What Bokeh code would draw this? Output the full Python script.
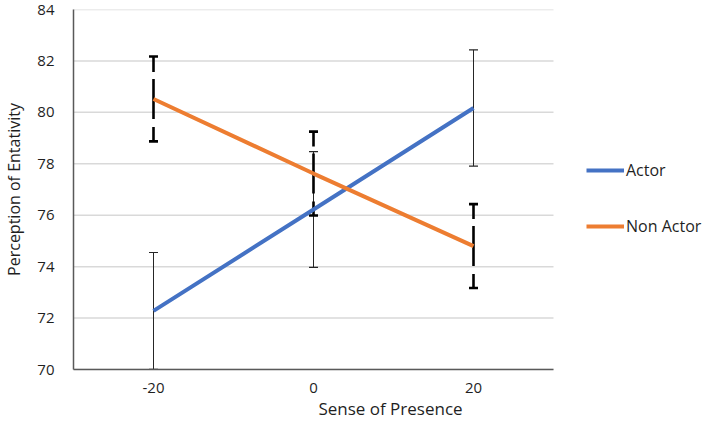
from bokeh.plotting import figure
from bokeh.models import ColumnDataSource, FixedTicker, Legend, LegendItem, Range1d
from bokeh.embed import file_html
from bokeh.resources import INLINE

# Sense of presence conditions and mean entativity ratings per group
presence = [-20, 0, 20]
presence_labels = ["-20", "0", "20"]
actor = [72.28, 76.22, 80.17]
actor_err = [2.27, 2.25, 2.26]
non_actor = [80.52, 77.62, 74.80]
non_actor_err = [1.65, 1.63, 1.63]
y_ticks = [70, 72, 74, 76, 78, 80, 82, 84]

X_LO, X_HI = -30, 30          # extent of the plotted axis
FONT = "Open Sans"
TEXT = "#1f1f1f"

def bars(values, errs):
    return ColumnDataSource(dict(
        x=presence,
        y=values,
        upper=[v + e for v, e in zip(values, errs)],
        lower=[v - e for v, e in zip(values, errs)],
    ))

src_actor = bars(actor, actor_err)
src_non = bars(non_actor, non_actor_err)

# the frame runs to the right edge so the legend can sit beside the axis
p = figure(
    width=707, height=422,
    x_range=Range1d(X_LO, 49.25), y_range=Range1d(70, 84),
    output_backend="svg", toolbar_location=None,
    min_border_left=73, min_border_right=0,
    min_border_top=9, min_border_bottom=53,
    background_fill_color="white", border_fill_color="white",
)
p.outline_line_color = None

# horizontal gridlines limited to the axis extent
p.xgrid.grid_line_color = None
p.ygrid.grid_line_color = None
grid_src = ColumnDataSource(dict(y=y_ticks, x0=[X_LO] * len(y_ticks),
                                 x1=[X_HI] * len(y_ticks)))
p.segment(x0="x0", y0="y", x1="x1", y1="y", source=grid_src,
          line_color="#d9d9d9", line_width=1.5)

p.yaxis.ticker = FixedTicker(ticks=y_ticks)
p.xaxis.ticker = FixedTicker(ticks=presence)
p.xaxis.major_label_overrides = dict(zip(presence, presence_labels))
p.xaxis.bounds = (X_LO, X_HI)
for ax in (p.xaxis, p.yaxis):
    ax.major_tick_line_color = None
    ax.minor_tick_line_color = None
    ax.axis_line_color = "#595959"
    ax.axis_line_width = 1.5
    ax.major_label_text_font = FONT
    ax.major_label_text_font_size = "15px"
    ax.major_label_text_color = TEXT
    ax.axis_label_text_font = FONT
    ax.axis_label_text_font_size = "17px"
    ax.axis_label_text_font_style = "normal"
    ax.axis_label_text_color = TEXT
p.yaxis.axis_label_text_font_size = "16px"
p.yaxis.major_label_standoff = 13
p.xaxis.major_label_standoff = 7
p.yaxis.axis_label_standoff = 9
p.xaxis.axis_label_standoff = 1
p.xaxis.axis_label = "Sense of Presence"
p.yaxis.axis_label = "Perception of Entativity"

# Actor error bars: thin solid with caps
p.segment(x0="x", y0="lower", x1="x", y1="upper", source=src_actor,
          line_color="#262626", line_width=1)
p.scatter(x="x", y="upper", source=src_actor, marker="dash", size=9,
          line_color="#262626", line_width=1.2)
p.scatter(x="x", y="lower", source=src_actor, marker="dash", size=9,
          line_color="#262626", line_width=1.2)

# Non Actor error bars: heavy dashed, drawn outward from the mean
p.segment(x0="x", y0="y", x1="x", y1="upper", source=src_non,
          line_color="black", line_width=2.6, line_dash="20 7")
p.segment(x0="x", y0="y", x1="x", y1="lower", source=src_non,
          line_color="black", line_width=2.6, line_dash="20 8")
p.scatter(x="x", y="upper", source=src_non, marker="dash", size=9,
          line_color="black", line_width=2.6)
p.scatter(x="x", y="lower", source=src_non, marker="dash", size=9,
          line_color="black", line_width=2.6)

# series lines
r_actor = p.line(x="x", y="y", source=src_actor, line_color="#4472C4",
                 line_width=4)
r_non = p.line(x="x", y="y", source=src_non, line_color="#ED7D31",
               line_width=4)

legend = Legend(
    items=[LegendItem(label="Actor", renderers=[r_actor]),
           LegendItem(label="Non Actor", renderers=[r_non])],
    location=(513, 132),
    orientation="vertical",
    padding=0, margin=0, spacing=34,
    glyph_width=38, glyph_height=20, label_height=20,
    label_standoff=2,
    label_text_font=FONT, label_text_font_size="16px",
    label_text_color=TEXT,
    border_line_color=None, background_fill_alpha=0,
)
p.add_layout(legend)

open("out.html", "w").write(file_html(p, INLINE))
